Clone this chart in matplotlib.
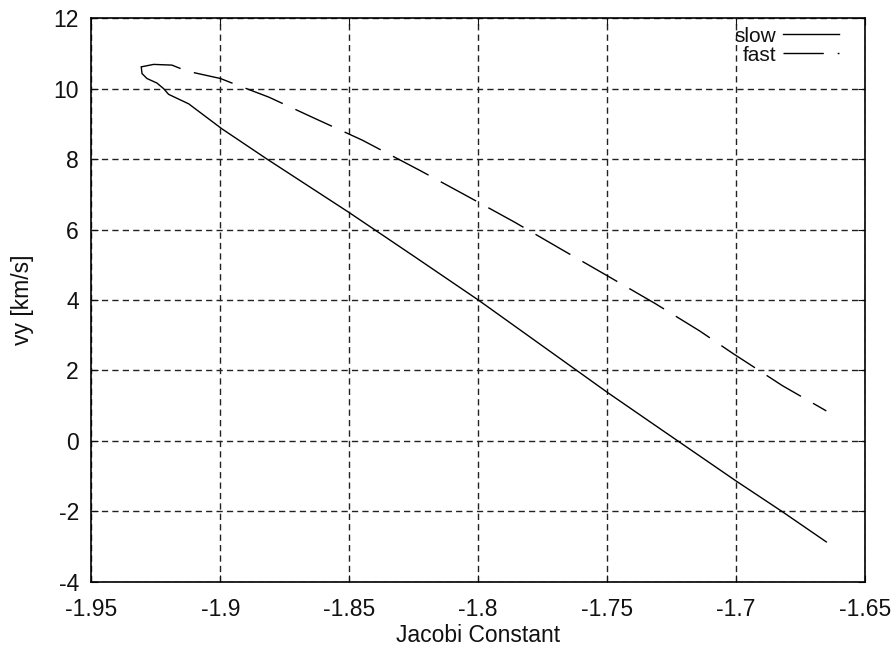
import matplotlib
matplotlib.use("Agg")
import matplotlib.pyplot as plt

# slow branch: from the tip down to the right end
slow_jc = [-1.9307, -1.9304, -1.9285, -1.9246, -1.9220, -1.9201, -1.9123, -1.8994,
           -1.8819, -1.85, -1.8243, -1.80, -1.7622, -1.75, -1.7294, -1.70, -1.6823, -1.665]
slow_vy = [10.62, 10.43, 10.29, 10.16, 10.00, 9.84, 9.57, 8.86,
           8.00, 6.48, 5.21, 4.00, 2.02, 1.38, 0.34, -1.14, -2.00, -2.87]

# fast branch
fast_jc = [-1.9307, -1.9259, -1.9188, -1.913, -1.90, -1.8948, -1.8812, -1.8638, -1.845,
           -1.8224, -1.8043, -1.7859, -1.7678, -1.75, -1.7314, -1.7141, -1.7012,
           -1.6953, -1.6821, -1.665]
fast_vy = [10.62, 10.69, 10.67, 10.50, 10.29, 10.14, 9.76, 9.17, 8.54,
           7.67, 6.95, 6.21, 5.44, 4.69, 3.90, 3.12, 2.48,
           2.20, 1.57, 0.85]

xticks = [-1.95, -1.9, -1.85, -1.8, -1.75, -1.7, -1.65]
xtick_labels = ["-1.95", "-1.9", "-1.85", "-1.8", "-1.75", "-1.7", "-1.65"]
yticks = [-4, -2, 0, 2, 4, 6, 8, 10, 12]

plt.rcParams['font.family'] = ['Liberation Sans', 'DejaVu Sans']
plt.rcParams['axes.unicode_minus'] = False

fig = plt.figure(figsize=(8.96, 6.62), dpi=100, facecolor='white')
ax = fig.add_axes([0.1021, 0.1213, 0.8633, 0.8511])

ax.plot(slow_jc, slow_vy, color='black', lw=1.0, label='slow')
ax.plot(fast_jc, fast_vy, color='black', lw=1.0, dashes=(29, 10), label='fast')

ax.set_xlim(-1.95, -1.65)
ax.set_ylim(-4, 12)
ax.set_xticks(xticks)
ax.set_xticklabels(xtick_labels)
ax.set_yticks(yticks)

ax.grid(True, color='#222222', lw=1.0, dashes=(4.5, 3))
ax.tick_params(direction='in', length=5, top=True, right=True,
               labelsize=16.5, colors='#111111')
ax.tick_params(axis='x', pad=12)
ax.tick_params(axis='y', pad=9)
for s in ax.spines.values():
    s.set_linewidth(1.2)

ax.set_xlabel("Jacobi Constant", fontsize=16.5, labelpad=2, color='#111111')
ax.set_ylabel("vy [km/s]", fontsize=16.5, labelpad=14, color='#111111')

leg = ax.legend(loc='upper right', bbox_to_anchor=(0.967, 0.985), frameon=False,
                markerfirst=False, fontsize=15, handlelength=2.7, handletextpad=0.35,
                labelspacing=0.0, borderpad=0, borderaxespad=0)
for t in leg.get_texts():
    t.set_color('#111111')

fig.savefig("out.png", dpi=100, facecolor='white')
